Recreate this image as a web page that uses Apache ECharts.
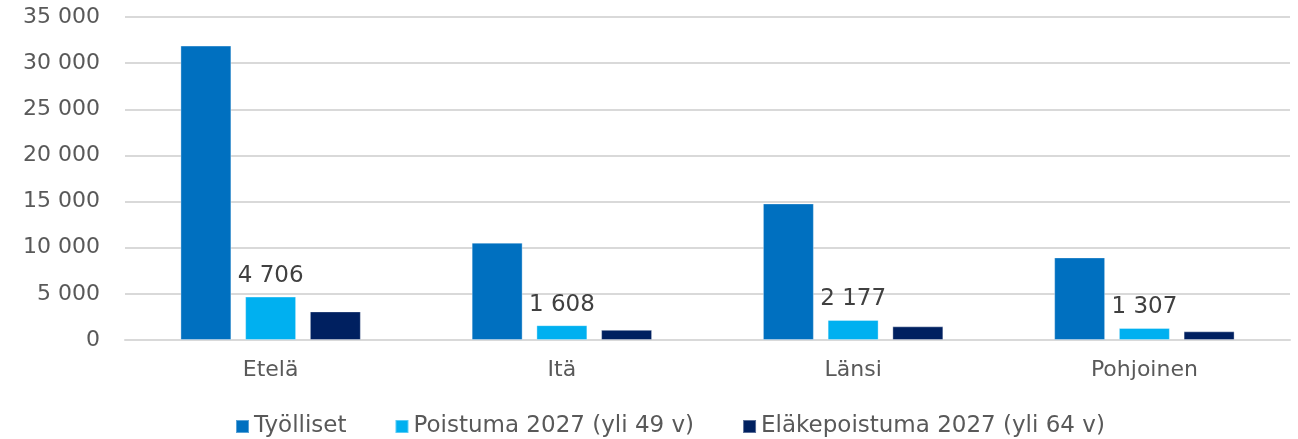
<!DOCTYPE html>
<html>
<head>
<meta charset="utf-8">
<script src="https://cdn.jsdelivr.net/npm/echarts@6/dist/echarts.min.js"></script>
<style>
  html, body { margin: 0; padding: 0; background: #fff; }
  #chart { width: 1298px; height: 439px; }
</style>
</head>
<body>
<div id="chart"></div>
<script>
// Alueet ja sarjat
const regions = ['Etelä', 'Itä', 'Länsi', 'Pohjoinen'];
const tyolliset = [31900, 10550, 14800, 8950];
const poistuma = [4706, 1608, 2177, 1307];
const elakepoistuma = [3100, 1100, 1480, 940];
const seriesNames = ['Työlliset', 'Poistuma 2027 (yli 49 v)', 'Eläkepoistuma 2027 (yli 64 v)'];
const seriesColors = ['#0070C0', '#00B0F0', '#002060'];

const FONT = '"DejaVu Sans", sans-serif';
const fmt = v => String(v).replace(/\B(?=(\d{3})+(?!\d))/g, ' ');

const chart = echarts.init(document.getElementById('chart'), null, { renderer: 'canvas' });

function bar(name, data, color, withLabel) {
  return {
    name: name,
    type: 'bar',
    data: data,
    barWidth: '17.5%',
    barGap: '27%',
    itemStyle: { color: color, borderColor: 'rgba(255,255,255,0.35)', borderWidth: 1 },
    label: withLabel ? {
      show: true,
      position: 'top',
      distance: 9,
      formatter: p => fmt(p.value),
      color: '#404040',
      fontFamily: FONT,
      fontSize: 23
    } : { show: false }
  };
}

chart.setOption({
  animation: false,
  backgroundColor: '#ffffff',
  grid: { left: 125, right: 8, top: 17, bottom: 99, containLabel: false },
  legend: {
    top: 410,
    left: 230,
    itemWidth: 13,
    itemHeight: 13,
    itemGap: 48,
    icon: 'rect',
    textStyle: { color: '#595959', fontFamily: FONT, fontSize: 23 },
    data: seriesNames
  },
  xAxis: {
    type: 'category',
    data: regions,
    axisLine: { lineStyle: { color: '#d9d9d9', width: 2 } },
    axisTick: { show: false },
    axisLabel: { color: '#595959', fontFamily: FONT, fontSize: 22, margin: 19 }
  },
  yAxis: {
    type: 'value',
    min: 0,
    max: 35000,
    interval: 5000,
    axisLine: { show: false },
    axisTick: { show: false },
    splitLine: { lineStyle: { color: '#d9d9d9', width: 2 } },
    axisLabel: { color: '#595959', fontFamily: FONT, fontSize: 22, margin: 25, formatter: fmt }
  },
  series: [
    bar(seriesNames[0], tyolliset, seriesColors[0], false),
    bar(seriesNames[1], poistuma, seriesColors[1], true),
    bar(seriesNames[2], elakepoistuma, seriesColors[2], false)
  ]
});
</script>
</body>
</html>
